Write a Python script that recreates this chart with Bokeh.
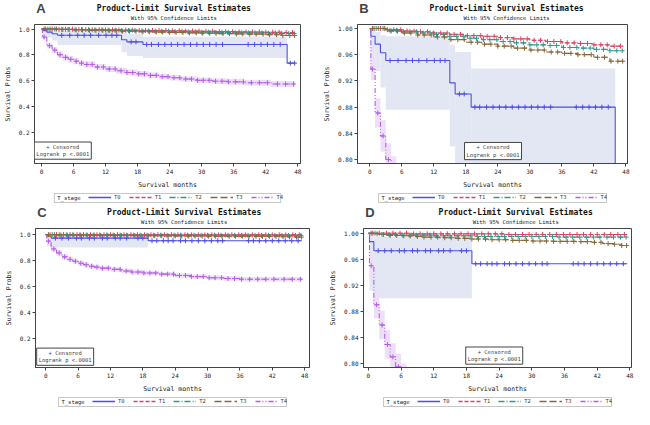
import numpy as np
from bokeh.plotting import figure
from bokeh.models import (Range1d, FixedTicker, NumeralTickFormatter, Label, Legend,
                          LegendItem, BoxAnnotation)
from bokeh.layouts import column, row
from bokeh.embed import file_html
from bokeh.resources import INLINE

# ---------------- data ----------------
STAGES = ["T0", "T1", "T2", "T3", "T4"]
X_TICKS = [0, 6, 12, 18, 24, 30, 36, 42, 48]
Y_TICKS_FULL = [0.2, 0.4, 0.6, 0.8, 1.0]
Y_TICKS_ZOOM = [0.80, 0.84, 0.88, 0.92, 0.96, 1.00]
END_TIME = 47.5

# cohort 1 (panels A and B)
C1_T0_TIME = [0, 0.2, 1, 2, 3, 15, 16, 19, 46]
C1_T0_SURV = [1.0, 0.988, 0.976, 0.963, 0.951, 0.917, 0.90, 0.88, 0.735]
C1_T0_LO = [np.nan, 0.95, 0.935, 0.91, 0.876, 0.82, 0.79, 0.775, np.nan]
C1_T0_HI = [np.nan, 1.0, 0.995, 0.99, 0.988, 0.975, 0.964, 0.939, np.nan]
C1_GRID_TIME = [0, 3, 6, 9, 12, 15, 18, 21, 24, 27, 30, 33, 36, 39, 42, 45]
C1_T1_SURV = [1.0, 0.998, 0.996, 0.995, 0.993, 0.991, 0.989, 0.988, 0.986, 0.984, 0.982, 0.980, 0.978, 0.977, 0.975, 0.973]
C1_T2_SURV = [1.0, 0.997, 0.995, 0.993, 0.991, 0.988, 0.985, 0.983, 0.980, 0.978, 0.975, 0.974, 0.971, 0.970, 0.968, 0.966]
C1_T3_SURV = [1.0, 0.996, 0.993, 0.990, 0.987, 0.983, 0.979, 0.976, 0.973, 0.970, 0.967, 0.964, 0.962, 0.960, 0.956, 0.950]
C1_T4_TIME = [0, 0.2, 1, 2, 3, 4, 5, 6, 7, 8, 10, 12, 14, 16, 18, 20, 22, 24, 26, 29, 32, 35, 38, 43]
C1_T4_SURV = [1.0, 0.938, 0.871, 0.836, 0.80, 0.78, 0.765, 0.75, 0.735, 0.725, 0.705, 0.69, 0.676,
              0.662, 0.652, 0.64, 0.63, 0.622, 0.612, 0.602, 0.595, 0.59, 0.583, 0.573]
C1_T4_HW = [0, 0.017, 0.022, 0.024, 0.025, 0.025, 0.025, 0.024, 0.024, 0.024, 0.023, 0.023, 0.023,
            0.023, 0.022, 0.022, 0.022, 0.022, 0.022, 0.022, 0.022, 0.023, 0.023, 0.024]
C1_T0_CENS = [3.8, 5.3, 6.8, 8.0, 9.2, 10.7, 12.1, 13.2, 14.1, 16.8, 17.7, 19.7, 20.6, 21.9, 23.1,
              24.3, 25.5, 26.7, 27.9, 29.1, 30.3, 31.5, 32.7, 33.9, 38.7, 39.9, 41.1, 42.3, 43.5,
              44.7, 46.6, 47.4]

# cohort 2 (panels C and D)
C2_T0_TIME = [0, 0.2, 1, 19]
C2_T0_SURV = [1.0, 0.987, 0.973, 0.953]
C2_T0_LO = [np.nan, 0.912, 0.90, np.nan]
C2_T0_HI = [np.nan, 0.998, 0.995, np.nan]
C2_T1_TIME = [0, 8, 25]
C2_T1_SURV = [1.0, 0.999, 0.998]
C2_T2_TIME = [0, 2, 6, 12, 20, 35]
C2_T2_SURV = [1.0, 0.998, 0.997, 0.996, 0.995, 0.994]
C2_T3_TIME = [0, 1, 2, 3, 4, 6, 8, 10, 13, 16, 19, 22, 26, 30, 34, 38, 41, 43, 45, 46.5]
C2_T3_SURV = [1.0, 0.999, 0.998, 0.997, 0.9965, 0.996, 0.995, 0.994, 0.993, 0.992, 0.991, 0.990,
              0.989, 0.988, 0.9875, 0.987, 0.986, 0.984, 0.983, 0.981]
C2_T4_TIME = [0, 0.2, 1, 2, 3, 4, 5, 6, 7, 8, 9, 10, 12, 14, 16, 18, 21, 24, 27, 30, 33, 36]
C2_T4_SURV = [1.0, 0.95, 0.89, 0.859, 0.829, 0.81, 0.795, 0.78, 0.768, 0.757, 0.75, 0.742, 0.733,
              0.72, 0.712, 0.705, 0.696, 0.686, 0.677, 0.668, 0.662, 0.657]
C2_T4_HW = [0, 0.02, 0.021, 0.022, 0.022, 0.021, 0.02, 0.02, 0.02, 0.019, 0.019, 0.019, 0.018,
            0.018, 0.018, 0.018, 0.017, 0.017, 0.017, 0.017, 0.017, 0.017]
C2_T0_CENS = [1.8, 3.0, 4.2, 5.7, 6.6, 8.1, 9.0, 10.5, 11.4, 12.9, 13.8, 15.0, 17.1, 18.0, 19.7,
              20.6, 21.8, 22.7, 23.6, 25.0, 25.9, 27.1, 28.3, 29.5, 30.7, 31.9, 32.8, 37.6, 38.5,
              39.6, 40.8, 42.0, 43.2, 44.4, 45.6, 46.8]

T1_CENS = [0.8, 2.0, 3.3, 4.5, 5.8, 7.0, 8.3, 9.5, 10.8, 12.0, 13.3, 14.5, 15.8, 17.0, 18.3, 19.5,
           20.8, 22.0, 23.3, 24.5, 25.8, 27.0, 28.3, 29.5, 30.8, 32.0, 33.3, 34.5, 35.8, 37.0, 38.3,
           39.5, 40.8, 42.0, 43.3, 44.5, 45.8, 47.0]
T2_CENS = [1.2, 2.5, 3.8, 5.0, 6.3, 7.5, 8.8, 10.0, 11.3, 12.5, 13.8, 15.0, 16.3, 17.5, 18.8, 20.0,
           21.3, 22.5, 23.8, 25.0, 26.3, 27.5, 28.8, 30.0, 31.3, 32.5, 33.8, 35.0, 36.3, 37.5, 38.8,
           40.0, 41.3, 42.5, 43.8, 45.0, 46.3, 47.3]
T3_CENS = [0.5, 1.6, 2.8, 4.0, 5.2, 6.5, 7.7, 9.0, 10.2, 11.5, 12.7, 14.0, 15.2, 16.5, 17.7, 19.0,
           20.2, 21.5, 22.7, 24.0, 25.2, 26.5, 27.7, 29.0, 30.2, 31.5, 32.7, 34.0, 35.2, 36.5, 37.7,
           39.0, 40.2, 41.5, 42.7, 44.0, 45.2, 46.5, 47.4]
T4_CENS = [0.5, 1.5, 2.5, 3.5, 4.5, 5.5, 6.5, 7.5, 8.5, 9.5, 10.5, 11.6, 12.7, 13.8, 14.9, 16.0,
           17.1, 18.2, 19.3, 20.4, 21.5, 22.6, 23.7, 24.8, 25.9, 27.0, 28.1, 29.2, 30.3, 31.4, 32.6,
           33.8, 35.0, 36.3, 37.8, 39.3, 40.8, 42.3, 44.2, 45.7, 47.2]

COHORT1 = {
    "T0": dict(time=C1_T0_TIME, surv=C1_T0_SURV, lo=C1_T0_LO, hi=C1_T0_HI, cens=C1_T0_CENS),
    "T1": dict(time=C1_GRID_TIME, surv=C1_T1_SURV, cens=T1_CENS),
    "T2": dict(time=C1_GRID_TIME, surv=C1_T2_SURV, cens=T2_CENS),
    "T3": dict(time=C1_GRID_TIME, surv=C1_T3_SURV, cens=T3_CENS),
    "T4": dict(time=C1_T4_TIME, surv=C1_T4_SURV, hw=C1_T4_HW, cens=T4_CENS),
}
COHORT2 = {
    "T0": dict(time=C2_T0_TIME, surv=C2_T0_SURV, lo=C2_T0_LO, hi=C2_T0_HI, cens=C2_T0_CENS),
    "T1": dict(time=C2_T1_TIME, surv=C2_T1_SURV, cens=T1_CENS),
    "T2": dict(time=C2_T2_TIME, surv=C2_T2_SURV, cens=T2_CENS),
    "T3": dict(time=C2_T3_TIME, surv=C2_T3_SURV, cens=T3_CENS),
    "T4": dict(time=C2_T4_TIME, surv=C2_T4_SURV, hw=C2_T4_HW, cens=T4_CENS),
}

TITLE = "Product-Limit Survival Estimates"
SUBTITLE = "With 95% Confidence Limits"
INSET_TEXT = "+ Censored\nLogrank p <.0001"
LEGEND_TITLE = "T_stage"

# ---------------- styles ----------------
FONT = "DejaVu Sans Mono"
COLORS = {"T0": "#4f4fe6", "T1": "#df4160", "T2": "#2f9a8a", "T3": "#86683a", "T4": "#b45ce6"}
DASHES = {"T0": "solid", "T1": "4 2", "T2": "6 2 1 2", "T3": "7 3", "T4": "5 2 1 2 1 2"}
BAND_COLORS = {"T0": "#e3e7f4", "T4": "#eedff8"}
FRAME = "#444444"
W = 317
HEAD_H = 21
PLOT_H = 170
LEG_H = 13
LEG_BOX_W = 228


def blank_fig(h, bl=0, br=0):
    f = figure(width=W, height=h, output_backend="svg", toolbar_location=None,
               x_axis_location=None, y_axis_location=None,
               x_range=Range1d(0, W - bl - br), y_range=Range1d(0, h),
               min_border_left=bl, min_border_right=br, min_border_top=0, min_border_bottom=0)
    f.grid.visible = False
    f.outline_line_color = None
    return f


def make_header(letter, bl, br):
    f = blank_fig(HEAD_H)
    cx = bl + (W - bl - br) / 2
    f.add_layout(Label(x=cx, y=13.5, text=TITLE, text_font=FONT, text_font_size="8px",
                       text_font_style="bold", text_align="center", text_baseline="middle",
                       text_color="#111111"))
    f.add_layout(Label(x=cx, y=3.5, text=SUBTITLE, text_font=FONT, text_font_size="5.5px",
                       text_align="center", text_baseline="middle", text_color="#222222"))
    f.add_layout(Label(x=2, y=20.5, text=letter, text_font="Liberation Sans",
                       text_font_size="13px", text_font_style="bold", text_baseline="top",
                       text_align="left"))
    return f


def make_legend(bl, br):
    f = blank_fig(LEG_H, bl, br)
    fw = W - bl - br
    left = fw / 2 - LEG_BOX_W / 2
    f.add_layout(BoxAnnotation(left=left, right=left + LEG_BOX_W, bottom=2, top=11,
                               fill_color="white", fill_alpha=0, line_color=FRAME,
                               line_width=1))
    f.add_layout(Label(x=left + 3, y=6.5, text=LEGEND_TITLE, text_font=FONT,
                       text_font_size="5.5px", text_align="left", text_baseline="middle",
                       text_color="#222222"))
    items = []
    for k in STAGES:
        # sample renderer kept outside the visible range; only its legend glyph is seen
        r = f.line(x=[-50, -40], y=[-50, -50], line_color=COLORS[k], line_dash=DASHES[k],
                   line_width=1.5)
        items.append(LegendItem(label=k, renderers=[r]))
    legend = Legend(items=items, orientation="horizontal", location=(left + 34, 4),
                    label_text_font=FONT, label_text_font_size="5.5px",
                    glyph_width=23, glyph_height=6, label_width=5, label_height=6,
                    label_standoff=3, spacing=8, padding=0, margin=0,
                    border_line_color=None, background_fill_alpha=0)
    f.add_layout(legend, "center")
    return f


def make_plot(cohort, xr, yr, yticks, yfmt, inset_xy, bl, br):
    p = figure(width=W, height=PLOT_H, title=None, output_backend="svg", toolbar_location=None,
               x_range=Range1d(*xr), y_range=Range1d(*yr),
               min_border_left=bl, min_border_right=br, min_border_top=3, min_border_bottom=26)
    p.grid.visible = False
    p.outline_line_color = FRAME
    p.background_fill_color = "white"

    for k in STAGES:
        d = cohort[k]
        t = np.array(d["time"], dtype=float)
        s = np.array(d["surv"], dtype=float)
        rights = np.append(t[1:], END_TIME)
        if "lo" in d:
            lo = np.array(d["lo"], dtype=float)
            hi = np.array(d["hi"], dtype=float)
        elif "hw" in d:
            hw = np.array(d["hw"], dtype=float)
            lo, hi = s - hw, s + hw
        else:
            continue
        p.quad(left=t, right=rights, bottom=lo, top=hi, fill_color=BAND_COLORS[k],
               line_color=None, fill_alpha=1.0)

    for k in STAGES:
        d = cohort[k]
        xs = list(d["time"]) + [END_TIME]
        ys = list(d["surv"]) + [d["surv"][-1]]
        p.step(x=xs, y=ys, mode="after", line_color=COLORS[k],
               line_dash=DASHES[k], line_width=1.1)
    for k in STAGES:
        d = cohort[k]
        t = np.array(d["time"], dtype=float)
        s = np.array(d["surv"], dtype=float)
        c = np.array(d["cens"], dtype=float)
        idx = np.searchsorted(t, c, side="right") - 1
        p.scatter(x=c, y=s[idx], marker="cross", size=5, line_color=COLORS[k], line_width=1)

    p.xaxis.ticker = FixedTicker(ticks=X_TICKS)
    p.yaxis.ticker = FixedTicker(ticks=yticks)
    p.yaxis.formatter = NumeralTickFormatter(format=yfmt)
    p.xaxis.axis_label = "Survival months"
    p.yaxis.axis_label = "Survival Probs"
    for ax in (p.xaxis[0], p.yaxis[0]):
        ax.major_label_text_font = FONT
        ax.major_label_text_font_size = "6px"
        ax.axis_label_text_font = FONT
        ax.axis_label_text_font_size = "6.5px"
        ax.axis_label_text_font_style = "normal"
        ax.minor_tick_line_color = None
        ax.major_tick_out = 3
        ax.major_tick_in = 0
        ax.major_label_standoff = 2
        ax.axis_label_standoff = 4
        ax.axis_line_color = FRAME
        ax.major_tick_line_color = FRAME
        ax.major_label_text_color = "#222222"
        ax.axis_label_text_color = "#222222"

    p.add_layout(Label(x=inset_xy[0], y=inset_xy[1], text=INSET_TEXT,
                       text_font=FONT, text_font_size="5.5px", text_align="center",
                       text_baseline="middle", border_line_color=FRAME, border_line_width=1,
                       background_fill_color="white", padding=2))
    return p


def make_panel(letter, cohort, xr, yr, yticks, yfmt, inset_xy, bl, br):
    return column(make_header(letter, bl, br),
                  make_plot(cohort, xr, yr, yticks, yfmt, inset_xy, bl, br),
                  make_legend(bl, br), spacing=0)


pa = make_panel("A", COHORT1, (-1.3, 48.5), (-0.044, 1.035), Y_TICKS_FULL, "0.0",
                (4.0, 0.056), 32, 17)
pb = make_panel("B", COHORT1, (-2.3, 48.3), (0.794, 1.006), Y_TICKS_ZOOM, "0.00",
                (23.1, 0.813), 40, 7)
pc = make_panel("C", COHORT2, (-1.9, 48.9), (-0.022, 1.047), Y_TICKS_FULL, "0.0",
                (3.6, 0.061), 35, 8)
pd = make_panel("D", COHORT2, (-0.9, 48.3), (0.7937, 1.0072), Y_TICKS_ZOOM, "0.00",
                (23.1, 0.812), 46, 3)

page = column(row(pa, pb, spacing=0), row(pc, pd, spacing=0), spacing=0)
open("out.html", "w").write(file_html(page, INLINE))
